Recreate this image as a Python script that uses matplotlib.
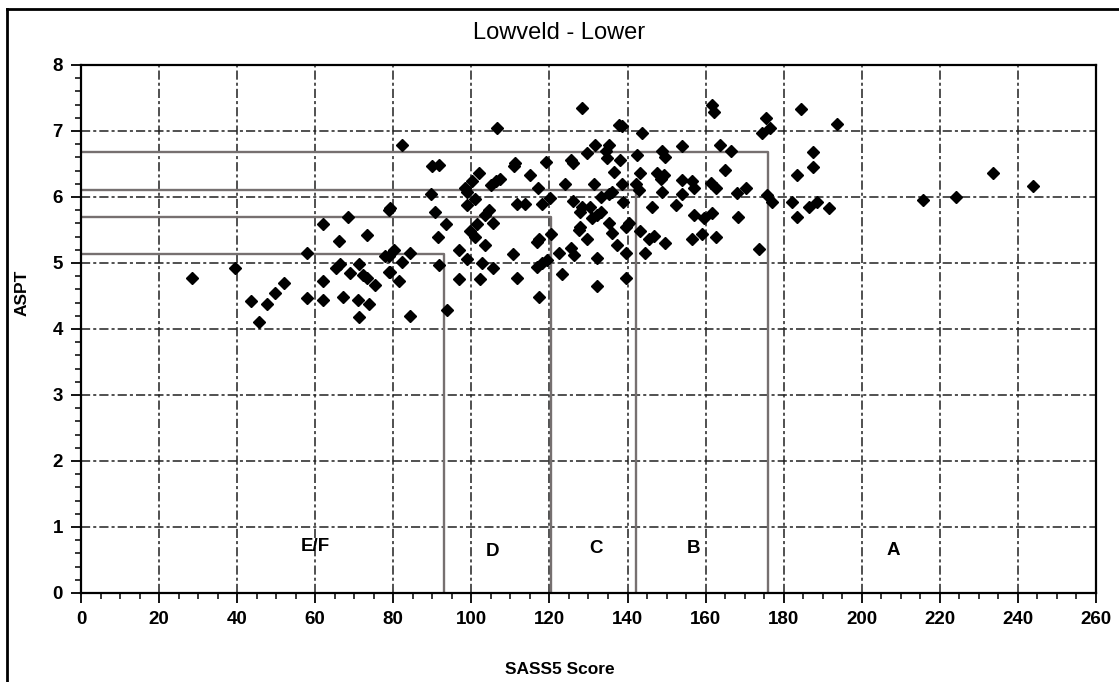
import numpy as np
import matplotlib
matplotlib.use("Agg")
import matplotlib.pyplot as plt
from matplotlib.lines import Line2D
from matplotlib.ticker import MultipleLocator

plt.rcParams['font.family'] = ['Liberation Sans', 'DejaVu Sans']

###### data ######
sass = [28.4, 39.5, 43.6, 45.5, 47.6, 49.7, 51.9, 58.0, 58.0, 62.1, 62.1, 62.1,
        68.4, 66.2, 73.3, 65.4, 66.4, 69.0, 71.1, 72.2, 73.3, 75.2, 67.0, 70.9,
        73.9, 71.1, 78.8, 78.8, 78.8,
        106.6, 82.2, 89.9, 91.6, 101.9, 100.2, 106.2, 105.1, 98.3, 98.9, 89.7,
        79.2, 90.8, 98.9, 100.9, 104.4,
        93.6, 91.5, 101.5, 99.7, 100.9, 105.5, 103.6, 103.6, 96.9, 98.9, 102.7,
        105.5, 102.1, 96.9, 91.6, 80.1, 77.9, 82.2, 84.4, 79.2, 81.4, 84.4, 93.8,
        128.4, 137.8, 131.6, 135.2, 129.5, 134.6, 134.8, 111.3, 110.8, 119.0,
        125.4, 126.1, 114.9, 136.5, 107.4, 117.1, 124.1, 131.5, 135.2, 136.1,
        133.1, 120.1, 111.7, 113.8, 118.1, 126.1, 128.4, 130.5,
        127.9, 132.2, 133.1, 130.9, 127.9, 127.5, 129.5, 135.2, 136.1, 137.2,
        120.3, 116.7, 117.3, 110.7, 116.8, 118.1, 119.4, 122.4, 125.4, 126.2,
        132.2, 111.7, 123.1, 132.2, 117.3,
        161.7, 162.1, 138.6, 143.8, 154.0, 163.8, 166.4, 148.9, 149.7, 142.5,
        138.2, 165.1, 143.3, 147.6, 149.3, 148.5, 154.0, 156.6, 157.0, 161.3,
        162.6, 138.5, 142.1, 142.9, 148.9, 154.0, 138.8, 146.3, 152.3,
        140.3, 139.5, 139.5, 143.3, 145.5, 146.8, 149.7, 144.4, 139.5, 156.6,
        159.0, 162.6, 157.0, 159.6, 161.7,
        184.4, 175.6, 176.5, 174.5, 193.6, 187.5, 187.5, 183.3, 168.1, 170.3,
        175.8, 177.1, 182.2, 186.5, 188.5, 191.5, 183.5, 168.3, 173.7, 215.8,
        224.1, 233.5, 243.8]
aspt = [4.77, 4.92, 4.42, 4.10, 4.38, 4.54, 4.70, 5.15, 4.47, 5.59, 4.72, 4.44,
        5.70, 5.34, 5.43, 4.92, 4.98, 4.85, 4.98, 4.82, 4.78, 4.66, 4.48, 4.44,
        4.38, 4.18, 5.81, 5.10, 4.87,
        7.05, 6.79, 6.47, 6.49, 6.36, 6.24, 6.24, 6.18, 6.14, 6.07, 6.05,
        5.84, 5.77, 5.88, 5.97, 5.80,
        5.59, 5.40, 5.59, 5.49, 5.40, 5.60, 5.27, 5.73, 5.20, 5.06, 5.00,
        4.92, 4.75, 4.75, 4.97, 5.20, 5.10, 5.02, 5.15, 4.87, 4.73, 4.19, 4.29,
        7.35, 7.09, 6.79, 6.79, 6.66, 6.69, 6.59, 6.51, 6.47, 6.53,
        6.56, 6.51, 6.34, 6.38, 6.28, 6.13, 6.19, 6.19, 6.05, 6.08,
        6.00, 5.99, 5.90, 5.90, 5.90, 5.94, 5.85, 5.85,
        5.78, 5.73, 5.78, 5.68, 5.55, 5.50, 5.36, 5.60, 5.45, 5.27,
        5.44, 5.32, 5.37, 5.14, 4.94, 5.00, 5.05, 5.15, 5.22, 5.12,
        5.07, 4.77, 4.83, 4.65, 4.48,
        7.40, 7.29, 7.07, 6.97, 6.78, 6.79, 6.70, 6.69, 6.61, 6.63,
        6.56, 6.41, 6.37, 6.37, 6.34, 6.28, 6.26, 6.24, 6.14, 6.21,
        6.14, 6.19, 6.19, 6.11, 6.08, 6.04, 5.93, 5.85, 5.88,
        5.60, 5.55, 5.15, 5.49, 5.37, 5.41, 5.31, 5.15, 4.77, 5.37,
        5.44, 5.40, 5.73, 5.68, 5.75,
        7.33, 7.19, 7.05, 6.97, 7.10, 6.68, 6.45, 6.33, 6.06, 6.13,
        6.03, 5.93, 5.93, 5.85, 5.92, 5.83, 5.70, 5.69, 5.21, 5.96,
        6.00, 6.37, 6.16]

# ecological category boundaries (SASS5 score, ASPT)
bound_sass = [92.9, 120.3, 142.2, 176.0]
bound_aspt = [5.14, 5.70, 6.10, 6.68]

classes = ['E/F', 'D', 'C', 'B', 'A']
class_x = [60, 105.5, 132, 157, 208]
class_y = [0.7, 0.63, 0.68, 0.68, 0.65]

fig = plt.figure(figsize=(11.19, 6.82), dpi=100)
ax = fig.add_axes([0.0724, 0.1305, 0.9070, 0.7742])

grid_style = dict(color='#202020', linewidth=1.1, linestyle=(0, (6, 2, 2, 2)), zorder=1)
for gx in range(20, 260, 20):
    ax.axvline(gx, **grid_style)
for gy in range(1, 8):
    ax.axhline(gy, **grid_style)

for bx, by in zip(bound_sass, bound_aspt):
    ax.plot([0, bx, bx], [by, by, 0], color='#767070', linewidth=1.7, zorder=2)

ax.plot(sass, aspt, linestyle='none', marker='D', markersize=6.5,
        color='black', zorder=3)

for lab, lx, ly in zip(classes, class_x, class_y):
    ax.text(lx, ly, lab, fontsize=13.5, fontweight='bold', ha='center', va='center')

ax.set_xlim(0, 260)
ax.set_ylim(0, 8)
ax.xaxis.set_major_locator(MultipleLocator(20))
ax.xaxis.set_minor_locator(MultipleLocator(5))
ax.yaxis.set_major_locator(MultipleLocator(1))
ax.yaxis.set_minor_locator(MultipleLocator(0.2))
ax.tick_params(which='major', direction='out', length=7, width=1.3, labelsize=13.5,
               pad=6)
ax.tick_params(which='minor', direction='out', length=4, width=1.1)
for lbl in ax.get_xticklabels() + ax.get_yticklabels():
    lbl.set_fontweight('bold')
for sp in ax.spines.values():
    sp.set_linewidth(1.6)

fig.text(0.5, 0.952, 'Lowveld - Lower', fontsize=17, ha='center', va='center')
fig.text(0.5, 0.018, 'SASS5 Score', fontsize=12.5, fontweight='bold', ha='center', va='center')
fig.text(0.02, 0.57, 'ASPT', fontsize=12.5, fontweight='bold', rotation=90,
         ha='center', va='center')

# outer frame (left and top edges)
fx = 7 / 1119
fy = 1 - 9 / 682
fig.add_artist(Line2D([fx, fx], [0, fy], color='black', linewidth=2, transform=fig.transFigure))
fig.add_artist(Line2D([fx, 1], [fy, fy], color='black', linewidth=2, transform=fig.transFigure))

fig.savefig('out.png', dpi=100)
